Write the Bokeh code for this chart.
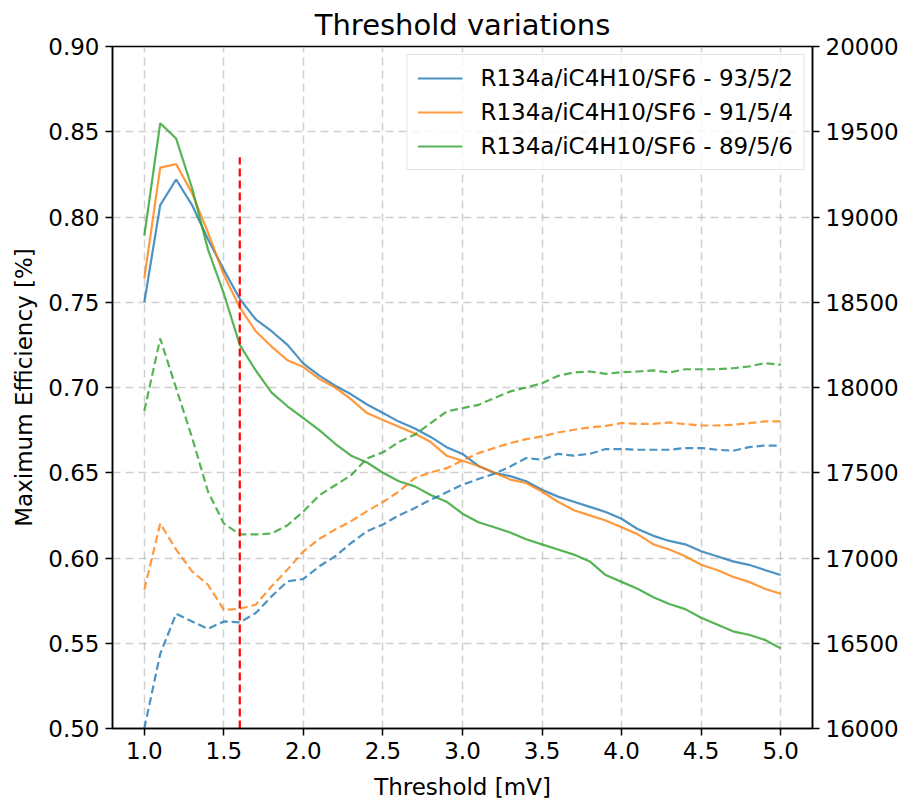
from bokeh.plotting import figure
from bokeh.models import Range1d, LinearAxis, FixedTicker, PrintfTickFormatter, Legend
from bokeh.embed import file_html
from bokeh.resources import INLINE

threshold = [1.0, 1.1, 1.2, 1.3, 1.4, 1.5, 1.6, 1.7, 1.8, 1.9,
             2.0, 2.1, 2.2, 2.3, 2.4, 2.5, 2.6, 2.7, 2.8, 2.9,
             3.0, 3.1, 3.2, 3.3, 3.4, 3.5, 3.6, 3.7, 3.8, 3.9,
             4.0, 4.1, 4.2, 4.3, 4.4, 4.5, 4.6, 4.7, 4.8, 4.9, 5.0]

eff_93 = [0.750, 0.807, 0.822, 0.807, 0.787, 0.769, 0.752, 0.740, 0.733, 0.725,
          0.714, 0.707, 0.701, 0.696, 0.690, 0.685, 0.680, 0.676, 0.671, 0.665,
          0.661, 0.654, 0.650, 0.648, 0.645, 0.640, 0.636, 0.633, 0.630, 0.627,
          0.623, 0.617, 0.613, 0.610, 0.608, 0.604, 0.601, 0.598, 0.596, 0.593, 0.590]
eff_91 = [0.764, 0.829, 0.831, 0.814, 0.791, 0.766, 0.747, 0.733, 0.724, 0.716,
          0.712, 0.705, 0.700, 0.693, 0.685, 0.681, 0.677, 0.673, 0.668, 0.660,
          0.657, 0.654, 0.650, 0.646, 0.644, 0.639, 0.633, 0.628, 0.625, 0.622,
          0.618, 0.614, 0.608, 0.605, 0.601, 0.596, 0.593, 0.589, 0.586, 0.582, 0.579]
eff_89 = [0.789, 0.855, 0.846, 0.817, 0.781, 0.755, 0.725, 0.710, 0.697, 0.689,
          0.682, 0.675, 0.667, 0.660, 0.656, 0.650, 0.645, 0.642, 0.637, 0.633,
          0.626, 0.621, 0.618, 0.615, 0.611, 0.608, 0.605, 0.602, 0.598, 0.590,
          0.586, 0.582, 0.577, 0.573, 0.570, 0.565, 0.561, 0.557, 0.555, 0.552, 0.547]

hv_93 = [16000, 16438, 16673, 16628, 16585, 16628, 16622, 16677, 16775, 16863,
         16877, 16951, 17010, 17088, 17157, 17196, 17250, 17293, 17342, 17385,
         17430, 17463, 17494, 17537, 17586, 17576, 17611, 17600, 17611, 17639,
         17639, 17635, 17635, 17635, 17645, 17645, 17635, 17629, 17650, 17660, 17658]
hv_91 = [16814, 17202, 17049, 16922, 16843, 16696, 16702, 16726, 16834, 16932,
         17039, 17112, 17167, 17216, 17275, 17328, 17390, 17469, 17502, 17527,
         17572, 17615, 17645, 17674, 17697, 17713, 17736, 17752, 17766, 17775,
         17791, 17787, 17787, 17795, 17785, 17777, 17777, 17781, 17791, 17801, 17801]
hv_89 = [17863, 18287, 17996, 17707, 17390, 17202, 17138, 17138, 17144, 17192,
         17273, 17368, 17427, 17485, 17584, 17620, 17680, 17723, 17791, 17859,
         17879, 17898, 17938, 17977, 18000, 18025, 18068, 18088, 18094, 18080,
         18090, 18094, 18100, 18088, 18107, 18107, 18107, 18113, 18123, 18143, 18133]

labels = ["R134a/iC4H10/SF6 - 93/5/2", "R134a/iC4H10/SF6 - 91/5/4", "R134a/iC4H10/SF6 - 89/5/6"]
colors = ["#1f77b4", "#ff7f0e", "#2ca02c"]

cut_x = [1.6, 1.6]
cut_y = [0.50, 0.835]

x_ticks = [1.0, 1.5, 2.0, 2.5, 3.0, 3.5, 4.0, 4.5, 5.0]
y_ticks = [0.50, 0.55, 0.60, 0.65, 0.70, 0.75, 0.80, 0.85, 0.90]
hv_ticks = [16000, 16500, 17000, 17500, 18000, 18500, 19000, 19500, 20000]

FONT = "DejaVu Sans"
TICK_FS = "23px"

p = figure(frame_width=700, frame_height=682,
           min_border_left=112, min_border_right=88, min_border_top=46, min_border_bottom=76,
           x_range=Range1d(0.8, 5.2), y_range=Range1d(0.5, 0.9),
           output_backend="svg", toolbar_location=None,
           title="Threshold variations")
p.extra_y_ranges = {"hv": Range1d(16000, 20000)}

p.title.align = "center"
p.title.text_font = FONT
p.title.text_font_size = "29px"
p.title.text_font_style = "normal"
p.title.text_color = "black"
p.title.standoff = 10

p.outline_line_color = "black"
p.outline_line_width = 1.5
p.outline_line_alpha = 1.0

for g in (p.xgrid, p.ygrid):
    g.grid_line_color = "#b0b0b0"
    g.grid_line_alpha = 0.6
    g.grid_line_dash = "8 5"
    g.grid_line_width = 1.5

p.xaxis.ticker = FixedTicker(ticks=x_ticks, minor_ticks=[])
p.xaxis.formatter = PrintfTickFormatter(format="%.1f")
left_axis = p.yaxis[0]
left_axis.ticker = FixedTicker(ticks=y_ticks, minor_ticks=[])
left_axis.formatter = PrintfTickFormatter(format="%.2f")
p.xgrid.ticker = FixedTicker(ticks=x_ticks, minor_ticks=[])
p.ygrid.ticker = FixedTicker(ticks=y_ticks, minor_ticks=[])

p.xaxis.axis_label = "Threshold [mV]"
left_axis.axis_label = "Maximum Efficiency [%]"

right = LinearAxis(y_range_name="hv",
                   ticker=FixedTicker(ticks=hv_ticks, minor_ticks=[]),
                   formatter=PrintfTickFormatter(format="%d"))
p.add_layout(right, "right")

for ax in [p.xaxis[0], left_axis, right]:
    ax.axis_line_color = "black"
    ax.axis_line_width = 1.5
    ax.major_tick_line_color = "black"
    ax.major_tick_line_width = 1.5
    ax.major_tick_out = 7
    ax.major_tick_in = 0
    ax.minor_tick_line_color = None
    ax.major_label_text_font = FONT
    ax.major_label_text_font_size = TICK_FS
    ax.major_label_text_color = "black"
    ax.major_label_standoff = 6
    ax.axis_label_text_font = FONT
    ax.axis_label_text_font_size = TICK_FS
    ax.axis_label_text_font_style = "normal"
    ax.axis_label_text_color = "black"
    ax.axis_label_standoff = 8
p.xaxis[0].axis_label_standoff = 12

effs = [eff_93, eff_91, eff_89]
hvs = [hv_93, hv_91, hv_89]
items = []
for eff, col, lab in zip(effs, colors, labels):
    r = p.line(threshold, eff, line_color=col, line_width=2.2, line_alpha=0.8)
    items.append((lab, [r]))
for hv, col in zip(hvs, colors):
    p.line(threshold, hv, line_color=col, line_width=2.2, line_alpha=0.8,
           line_dash="8 4", y_range_name="hv")

p.line(cut_x, cut_y, line_color="red", line_width=2.2, line_dash="8 4")

legend = Legend(items=items, location="top_right")
legend.label_text_font = FONT
legend.label_text_font_size = TICK_FS
legend.label_text_color = "black"
legend.glyph_width = 45
legend.label_standoff = 18
legend.spacing = 8
legend.padding = 10
legend.margin = 8
legend.border_line_color = "#cccccc"
legend.border_line_width = 1.5
legend.background_fill_alpha = 0.8
p.add_layout(legend)

open("out.html", "w").write(file_html(p, INLINE))
